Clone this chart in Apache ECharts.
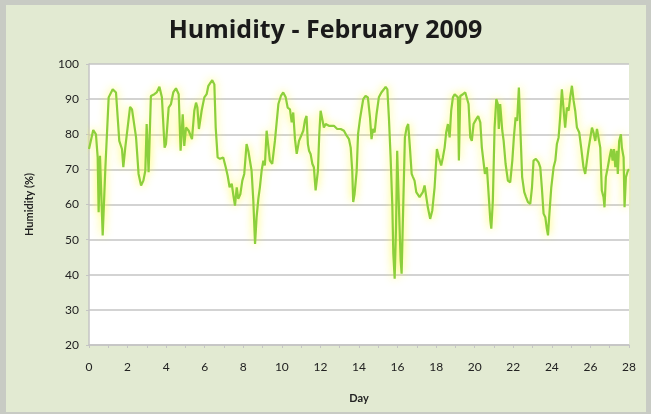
<!DOCTYPE html>
<html>
<head>
<meta charset="utf-8">
<title>Humidity - February 2009</title>
<script src="https://cdn.jsdelivr.net/npm/echarts@6/dist/echarts.min.js"></script>
<style>
  html, body { margin: 0; padding: 0; background: #c8cbc4; }
  #chart { width: 651px; height: 414px; }
</style>
</head>
<body>
<div id="chart"></div>
<script>
// day of month (fractional) and relative humidity (%)
const days = [
  0.00, 0.22, 0.36, 0.45, 0.50, 0.57, 0.71, 0.85, 1.02, 1.23, 1.40, 1.57, 1.71, 1.78, 1.88, 1.95,
  2.13, 2.23, 2.44, 2.57, 2.70, 2.82, 2.92, 2.99, 3.09, 3.21, 3.39, 3.51, 3.65, 3.78, 3.92, 3.99,
  4.13, 4.25, 4.37, 4.51, 4.65, 4.75, 4.86, 4.94, 5.03, 5.17, 5.34, 5.46, 5.55, 5.62, 5.70, 5.84,
  5.98, 6.10, 6.19, 6.27, 6.39, 6.50, 6.57, 6.67, 6.79, 6.96, 7.09, 7.19, 7.29, 7.40, 7.50, 7.57,
  7.66, 7.74, 7.85, 7.95, 8.05, 8.17, 8.26, 8.35, 8.43, 8.52, 8.61, 8.69, 8.78, 8.86, 8.95, 9.04,
  9.12, 9.21, 9.30, 9.38, 9.50, 9.64, 9.73, 9.82, 9.95, 10.07, 10.20, 10.30, 10.42, 10.51, 10.59, 10.68,
  10.77, 10.89, 10.99, 11.11, 11.20, 11.28, 11.35, 11.41, 11.49, 11.58, 11.66, 11.75, 11.80, 11.87, 11.94, 12.01,
  12.10, 12.18, 12.27, 12.44, 12.70, 12.87, 13.05, 13.22, 13.36, 13.48, 13.57, 13.65, 13.70, 13.77, 13.88, 13.95,
  14.05, 14.12, 14.22, 14.34, 14.46, 14.57, 14.65, 14.72, 14.81, 14.91, 15.03, 15.16, 15.29, 15.38, 15.47, 15.55,
  15.64, 15.73, 15.78, 15.85, 15.92, 15.98, 16.07, 16.16, 16.21, 16.30, 16.38, 16.47, 16.55, 16.64, 16.73, 16.80,
  16.88, 16.97, 17.06, 17.14, 17.23, 17.31, 17.40, 17.49, 17.57, 17.69, 17.80, 17.92, 18.04, 18.14, 18.26, 18.35,
  18.44, 18.52, 18.61, 18.70, 18.78, 18.87, 18.96, 19.04, 19.13, 19.18, 19.25, 19.39, 19.51, 19.60, 19.68, 19.77,
  19.85, 19.94, 20.08, 20.18, 20.29, 20.37, 20.46, 20.53, 20.63, 20.72, 20.81, 20.86, 20.94, 21.03, 21.12, 21.20,
  21.25, 21.32, 21.43, 21.50, 21.60, 21.72, 21.84, 21.95, 22.03, 22.12, 22.20, 22.29, 22.36, 22.46, 22.57, 22.66,
  22.76, 22.88, 22.97, 23.05, 23.17, 23.31, 23.40, 23.48, 23.57, 23.66, 23.74, 23.80, 23.86, 23.97, 24.09, 24.18,
  24.26, 24.35, 24.43, 24.52, 24.61, 24.69, 24.78, 24.87, 24.95, 25.04, 25.13, 25.21, 25.30, 25.42, 25.52, 25.64,
  25.73, 25.82, 25.90, 25.99, 26.08, 26.16, 26.25, 26.34, 26.42, 26.51, 26.59, 26.68, 26.73, 26.80, 26.90, 26.99,
  27.08, 27.15, 27.22, 27.29, 27.37, 27.42, 27.49, 27.58, 27.63, 27.72, 27.77, 27.84, 27.94, 28.00
];

const humidity = [
  75.8, 81.2, 80.0, 73.4, 57.8, 73.9, 51.2, 70.6, 90.5, 92.8, 91.9, 78.1, 75.8, 70.6, 76.2, 75.8,
  87.8, 87.1, 79.1, 68.7, 65.4, 66.8, 69.6, 82.9, 69.2, 90.9, 91.4, 91.9, 93.5, 90.5, 76.2, 77.2,
  87.6, 88.6, 91.9, 93.1, 91.4, 75.3, 85.7, 76.7, 81.9, 81.0, 78.6, 86.7, 89.0, 87.6, 81.5, 86.7,
  90.5, 91.4, 93.8, 93.3, 95.4, 94.2, 81.9, 73.4, 73.0, 73.4, 70.6, 68.2, 64.9, 65.9, 62.1, 59.7,
  64.9, 61.6, 63.0, 66.8, 68.7, 77.2, 75.3, 75.8, 69.6, 61.1, 48.8, 56.4, 61.6, 64.9, 69.6, 72.5,
  71.1, 81.0, 81.5, 72.5, 71.6, 78.1, 78.1, 88.6, 90.9, 91.9, 90.5, 87.6, 87.1, 83.4, 86.2, 78.6,
  74.4, 78.1, 77.6, 81.0, 84.0, 85.2, 77.2, 75.3, 74.4, 71.6, 70.6, 64.0, 63.5, 69.6, 80.0, 86.7,
  86.2, 81.9, 82.9, 82.4, 82.4, 81.5, 81.5, 81.0, 79.6, 78.6, 76.2, 69.6, 60.7, 63.0, 69.6, 80.0,
  84.3, 86.7, 90.0, 90.9, 90.5, 84.8, 78.6, 81.5, 80.5, 85.7, 90.5, 91.9, 92.8, 93.5, 92.8, 84.8,
  73.4, 59.2, 46.0, 38.9, 53.6, 75.3, 59.2, 44.1, 40.3, 61.1, 79.1, 81.9, 82.9, 76.2, 68.7, 67.8,
  66.8, 63.5, 63.0, 62.1, 62.6, 63.5, 65.4, 62.1, 59.2, 55.9, 58.3, 64.9, 75.8, 73.4, 71.1, 73.4,
  76.2, 80.5, 82.9, 79.1, 86.7, 90.5, 91.4, 90.9, 90.5, 72.5, 90.9, 91.4, 91.9, 91.4, 88.6, 79.1,
  78.1, 82.9, 84.3, 85.2, 83.4, 76.2, 76.2, 68.7, 70.6, 63.0, 55.5, 53.1, 61.1, 81.9, 90.0, 88.6,
  81.5, 88.6, 81.0, 78.1, 71.6, 66.8, 66.3, 72.5, 79.1, 84.8, 83.8, 93.3, 82.4, 67.8, 63.5, 62.1,
  60.7, 60.2, 64.9, 72.5, 73.0, 72.0, 70.6, 64.9, 57.4, 56.4, 53.1, 51.2, 56.4, 64.9, 70.6, 72.5,
  77.2, 79.1, 84.8, 92.8, 92.8, 81.9, 87.6, 86.7, 90.5, 93.8, 89.5, 86.7, 81.9, 80.5, 76.2, 70.6,
  68.7, 72.5, 75.8, 76.2, 81.9, 80.5, 78.1, 81.5, 81.9, 76.2, 64.0, 62.1, 59.2, 67.8, 70.6, 73.4,
  75.8, 72.5, 75.8, 70.6, 75.3, 68.7, 78.1, 80.0, 76.2, 73.4, 59.2, 67.8, 69.6, 70.1
];

const font = 'Lato, "Open Sans", sans-serif';
const chart = echarts.init(document.getElementById('chart'));

chart.setOption({
  backgroundColor: '#c8cbc4',
  animation: false,
  graphic: [
    {
      type: 'rect',
      z: -10,
      shape: { x: 6, y: 5, width: 640, height: 407 },
      style: { fill: '#e2ead2' },
    },
  ],
  title: {
    text: 'Humidity - February 2009',
    left: 'center',
    top: 13,
    textStyle: { fontFamily: '"Open Sans", sans-serif', fontSize: 25, fontWeight: 'bold', color: '#1a1a1a' },
  },
  grid: {
    left: 89,
    right: 22,
    top: 64,
    bottom: 69,
    show: true,
    backgroundColor: '#ffffff',
    borderWidth: 0,
  },
  xAxis: {
    type: 'value',
    min: 0,
    max: 28,
    interval: 2,
    name: 'Day',
    nameLocation: 'middle',
    nameGap: 48,
    nameTextStyle: { fontFamily: font, fontSize: 11, fontWeight: 'bold', color: '#222' },
    axisLine: { show: true, lineStyle: { color: '#c4c4c4', width: 1.5 } },
    axisTick: { show: true, length: 3, lineStyle: { color: '#c4c4c4' } },
    minorTick: { show: true, splitNumber: 2, length: 3, lineStyle: { color: '#c4c4c4' } },
    axisLabel: { fontFamily: font, fontSize: 12, color: '#222', margin: 16 },
    splitLine: { show: false },
  },
  yAxis: {
    type: 'value',
    min: 20,
    max: 100,
    interval: 10,
    name: 'Humidity (%)',
    nameLocation: 'middle',
    nameGap: 54,
    nameRotate: 90,
    nameTextStyle: { fontFamily: font, fontSize: 11, fontWeight: 'bold', color: '#222' },
    axisLine: { show: true, lineStyle: { color: '#c4c4c4', width: 1.5 } },
    axisTick: { show: true, length: 3, lineStyle: { color: '#c4c4c4' } },
    axisLabel: { fontFamily: font, fontSize: 12, color: '#222', margin: 10 },
    splitLine: { show: true, lineStyle: { color: '#c4c4c4', width: 1.5 } },
  },
  series: [
    {
      type: 'line',
      data: days.map((d, i) => [d, humidity[i]]),
      showSymbol: false,
      symbol: 'none',
      lineStyle: {
        color: '#8ccf3c',
        width: 2.2,
        shadowColor: 'rgba(255, 250, 60, 0.9)',
        shadowBlur: 9,
      },
    },
  ],
});
</script>
</body>
</html>
